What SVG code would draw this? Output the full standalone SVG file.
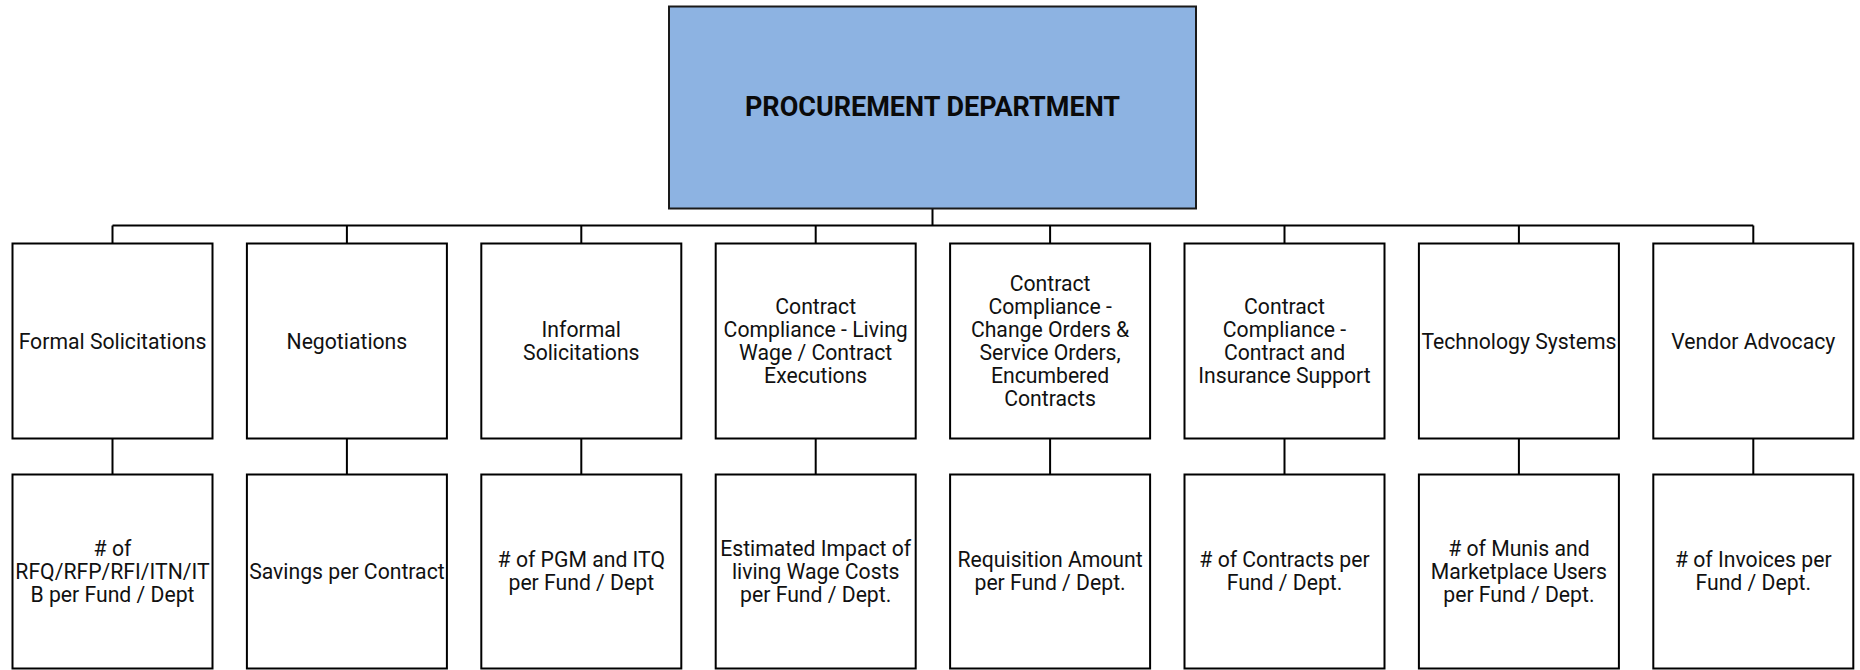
<svg xmlns="http://www.w3.org/2000/svg" width="1860" height="670" viewBox="0 0 1860 670">
  <style>
    .box { fill: #ffffff; stroke: #000000; stroke-width: 2; }
    .root { fill: #8db3e2; stroke: #1a1a1a; stroke-width: 2; }
    .lbl { font-family: Roboto, "Liberation Sans", sans-serif; font-size: 21.2px; fill: #111111; text-anchor: middle; }
    .title { font-family: Roboto, "Liberation Sans", sans-serif; font-size: 27px; font-weight: bold; fill: #0a0a0a; text-anchor: middle; }
    .wire { fill: none; stroke: #000000; stroke-width: 2; }
  </style>
  <rect width="1860" height="670" fill="#ffffff"/>

  <!-- connectors -->
  <g id="connectors">
    <path class="wire" d="M932.5 208.5 V225.5 M112.5 225.5 H1753.3"/>
    <path class="wire" d="M112.5 225.5 V243.5 M346.9 225.5 V243.5 M581.3 225.5 V243.5 M815.7 225.5 V243.5 M1050.1 225.5 V243.5 M1284.5 225.5 V243.5 M1518.9 225.5 V243.5 M1753.3 225.5 V243.5"/>
    <path class="wire" d="M112.5 438.5 V474.5 M346.9 438.5 V474.5 M581.3 438.5 V474.5 M815.7 438.5 V474.5 M1050.1 438.5 V474.5 M1284.5 438.5 V474.5 M1518.9 438.5 V474.5 M1753.3 438.5 V474.5"/>
  </g>

  <!-- head of department -->
  <g id="procurement">
    <rect class="root" x="669" y="6.5" width="527" height="202"/>
    <text class="title" x="932.5" y="116">PROCUREMENT DEPARTMENT</text>
  </g>

  <!-- functions -->
  <g id="formal-solicitations">
    <rect class="box" x="12.5" y="243.5" width="200" height="195"/>
    <text class="lbl" x="112.5" y="348.5">Formal Solicitations</text>
  </g>
  <g id="negotiations">
    <rect class="box" x="246.9" y="243.5" width="200" height="195"/>
    <text class="lbl" x="346.9" y="348.5">Negotiations</text>
  </g>
  <g id="informal-solicitations">
    <rect class="box" x="481.3" y="243.5" width="200" height="195"/>
    <text class="lbl"><tspan x="581.3" y="337">Informal</tspan><tspan x="581.3" y="360">Solicitations</tspan></text>
  </g>
  <g id="living-wage">
    <rect class="box" x="715.7" y="243.5" width="200" height="195"/>
    <text class="lbl"><tspan x="815.7" y="314">Contract</tspan><tspan x="815.7" y="337">Compliance - Living</tspan><tspan x="815.7" y="360">Wage / Contract</tspan><tspan x="815.7" y="383">Executions</tspan></text>
  </g>
  <g id="change-orders">
    <rect class="box" x="950.1" y="243.5" width="200" height="195"/>
    <text class="lbl"><tspan x="1050.1" y="291">Contract</tspan><tspan x="1050.1" y="314">Compliance -</tspan><tspan x="1050.1" y="337">Change Orders &amp;</tspan><tspan x="1050.1" y="360">Service Orders,</tspan><tspan x="1050.1" y="383">Encumbered</tspan><tspan x="1050.1" y="406">Contracts</tspan></text>
  </g>
  <g id="insurance-support">
    <rect class="box" x="1184.5" y="243.5" width="200" height="195"/>
    <text class="lbl"><tspan x="1284.5" y="314">Contract</tspan><tspan x="1284.5" y="337">Compliance -</tspan><tspan x="1284.5" y="360">Contract and</tspan><tspan x="1284.5" y="383">Insurance Support</tspan></text>
  </g>
  <g id="technology-systems">
    <rect class="box" x="1418.9" y="243.5" width="200" height="195"/>
    <text class="lbl" x="1518.9" y="348.5">Technology Systems</text>
  </g>
  <g id="vendor-advocacy">
    <rect class="box" x="1653.3" y="243.5" width="200" height="195"/>
    <text class="lbl" x="1753.3" y="348.5">Vendor Advocacy</text>
  </g>

  <!-- measures -->
  <g id="measure-solicitations">
    <rect class="box" x="12.5" y="474.5" width="200" height="194"/>
    <text class="lbl"><tspan x="112.5" y="555.5"># of</tspan><tspan x="112.5" y="578.5">RFQ/RFP/RFI/ITN/IT</tspan><tspan x="112.5" y="601.5">B per Fund / Dept</tspan></text>
  </g>
  <g id="measure-savings">
    <rect class="box" x="246.9" y="474.5" width="200" height="194"/>
    <text class="lbl" x="346.9" y="578.5">Savings per Contract</text>
  </g>
  <g id="measure-pgm-itq">
    <rect class="box" x="481.3" y="474.5" width="200" height="194"/>
    <text class="lbl"><tspan x="581.3" y="567"># of PGM and ITQ</tspan><tspan x="581.3" y="590">per Fund / Dept</tspan></text>
  </g>
  <g id="measure-living-wage">
    <rect class="box" x="715.7" y="474.5" width="200" height="194"/>
    <text class="lbl"><tspan x="815.7" y="555.5">Estimated Impact of</tspan><tspan x="815.7" y="578.5">living Wage Costs</tspan><tspan x="815.7" y="601.5">per Fund / Dept.</tspan></text>
  </g>
  <g id="measure-requisition">
    <rect class="box" x="950.1" y="474.5" width="200" height="194"/>
    <text class="lbl"><tspan x="1050.1" y="567">Requisition Amount</tspan><tspan x="1050.1" y="590">per Fund / Dept.</tspan></text>
  </g>
  <g id="measure-contracts">
    <rect class="box" x="1184.5" y="474.5" width="200" height="194"/>
    <text class="lbl"><tspan x="1284.5" y="567"># of Contracts per</tspan><tspan x="1284.5" y="590">Fund / Dept.</tspan></text>
  </g>
  <g id="measure-users">
    <rect class="box" x="1418.9" y="474.5" width="200" height="194"/>
    <text class="lbl"><tspan x="1518.9" y="555.5"># of Munis and</tspan><tspan x="1518.9" y="578.5">Marketplace Users</tspan><tspan x="1518.9" y="601.5">per Fund / Dept.</tspan></text>
  </g>
  <g id="measure-invoices">
    <rect class="box" x="1653.3" y="474.5" width="200" height="194"/>
    <text class="lbl"><tspan x="1753.3" y="567"># of Invoices per</tspan><tspan x="1753.3" y="590">Fund / Dept.</tspan></text>
  </g>
</svg>
